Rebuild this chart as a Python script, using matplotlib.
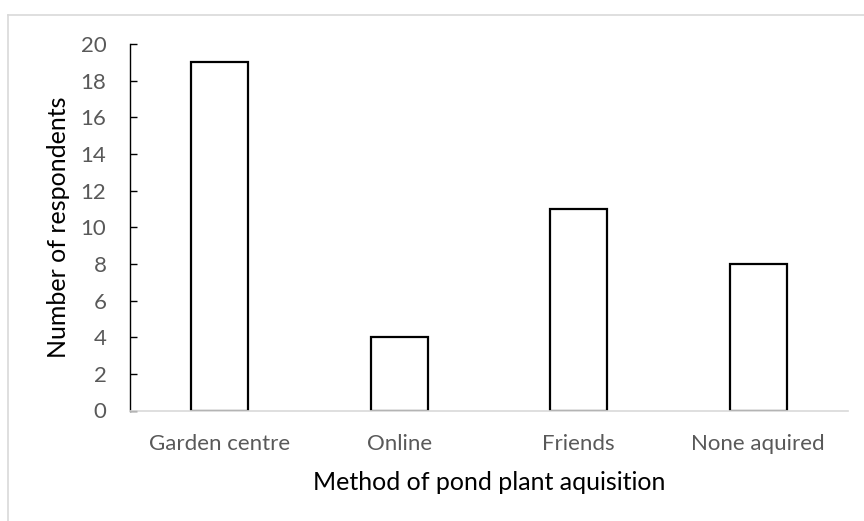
import matplotlib
matplotlib.use("Agg")
import matplotlib.pyplot as plt
from matplotlib.lines import Line2D

categories = ["Garden centre", "Online", "Friends", "None aquired"]
values = [19, 4, 11, 8]
yticks = [0, 2, 4, 6, 8, 10, 12, 14, 16, 18, 20]

plt.rcParams['font.family'] = ['Lato', 'DejaVu Sans']

fig = plt.figure(figsize=(8.64, 5.21), dpi=100)
ax = fig.add_axes([130/864, 1 - 410.5/521, (848-130)/864, (410.5-44)/521])

x = list(range(len(categories)))
ax.bar(x, values, width=0.32, facecolor='white', edgecolor='black', linewidth=1.6, zorder=2)

ax.set_xlim(-0.5, len(categories) - 0.5)
ax.set_ylim(0, 20)
ax.set_yticks(yticks)
ax.set_xticks(x)
ax.set_xticklabels(categories)

for s in ['top', 'right']:
    ax.spines[s].set_visible(False)
ax.spines['left'].set_color('black')
ax.spines['left'].set_linewidth(1.0)
ax.spines['bottom'].set_color('#d9d9d9')
ax.spines['bottom'].set_linewidth(1.2)
ax.spines['bottom'].set_zorder(3)

ax.tick_params(axis='y', direction='in', length=5, width=1.0, color='black',
               labelsize=16, labelcolor='#595959', pad=17)
ax.tick_params(axis='x', length=0, labelsize=16, labelcolor='#595959', pad=17)

ax.set_ylabel("Number of respondents", fontsize=18, color='black', labelpad=7.5)
ax.set_xlabel("Method of pond plant aquisition", fontsize=18, color='black', labelpad=12)

# outer chart border (top and left visible)
fig.add_artist(Line2D([8/864, 8/864], [0, 1 - 15/521], transform=fig.transFigure,
                      color='#d9d9d9', linewidth=1.2))
fig.add_artist(Line2D([8/864, 1], [1 - 15/521, 1 - 15/521], transform=fig.transFigure,
                      color='#d9d9d9', linewidth=1.2))

fig.savefig("out.png", dpi=100)
